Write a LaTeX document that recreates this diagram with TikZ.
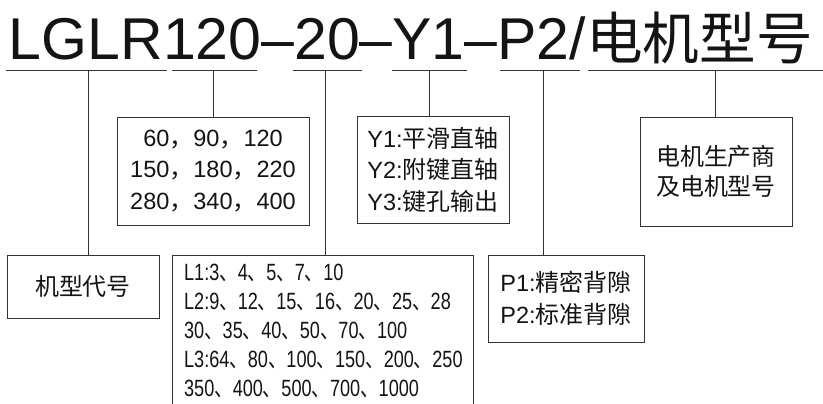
\documentclass[tikz,border=0pt]{standalone}
\usepackage{fontspec}
\setmainfont{Liberation Sans}
\newfontfamily\cjk[Scale=1.02]{Noto Sans CJK SC}
\newfontfamily\condlat[FakeStretch=0.77]{Liberation Sans}
\newfontfamily\condcjk[FakeStretch=0.77,Scale=1.02]{Noto Sans CJK SC}
\newcommand{\dunhao}{{\condcjk 、}}
\newcommand{\qcomma}{{\cjk ，}}
\begin{document}
\begin{tikzpicture}[x=1pt,y=-1pt,
  box/.style={draw=black!80, line width=0.9pt, inner sep=0pt, text=black!92,
    font=\fontsize{23.5}{31.5}\selectfont},
  link/.style={draw=black!80, line width=0.9pt}]
\useasboundingbox (0,0) rectangle (823,404);
\clip (0,0) rectangle (823,404);
\fill[white] (0,0) rectangle (823,404);

% title
\node[anchor=base west, inner sep=0pt, text=black!92, font=\fontsize{59}{59}\selectfont] (title) at (8.7,60)
  {LGLR120–20–Y1–P2/{\fontsize{55.5}{59}\cjk 电机型号}};

% underline segments
\coordinate (s1a) at (6,70);   \coordinate (s1b) at (167,70);
\coordinate (s2a) at (172,70); \coordinate (s2b) at (257,70);
\coordinate (s3a) at (293,70); \coordinate (s3b) at (362,70);
\coordinate (s4a) at (392,70); \coordinate (s4b) at (467,70);
\coordinate (s5a) at (500,70); \coordinate (s5b) at (580,70);
\coordinate (s6a) at (588,70); \coordinate (s6b) at (823,70);
\foreach \i in {1,...,6} {\draw[link] (s\i a) -- (s\i b);}

% connector start points
\coordinate (u1) at (88,70);
\coordinate (u2) at (213,70);
\coordinate (u3) at (325,70);
\coordinate (u4) at (429,70);
\coordinate (u5) at (543,70);
\coordinate (u6) at (715,70);

% boxes
\node[box, minimum width=152, minimum height=63] (bA) at (83,286.5) {\cjk 机型代号};

\node[box, minimum width=192, minimum height=108, align=center] (bB) at (213,171)
  {60\qcomma 90\qcomma 120\\150\qcomma 180\qcomma 220\\280\qcomma 340\qcomma 400};

\node[box, anchor=north west, minimum width=301, minimum height=152, text width=277.6,
  inner xsep=11.7, align=left, font=\condlat\fontsize{23.5}{29}\selectfont] (bC) at (172,255)
  {L1:3\dunhao 4\dunhao 5\dunhao 7\dunhao 10\\
   L2:9\dunhao 12\dunhao 15\dunhao 16\dunhao 20\dunhao 25\dunhao 28\\
   30\dunhao 35\dunhao 40\dunhao 50\dunhao 70\dunhao 100\\
   L3:64\dunhao 80\dunhao 100\dunhao 150\dunhao 200\dunhao 250\\
   350\dunhao 400\dunhao 500\dunhao 700\dunhao 1000};

\node[box, minimum width=152, minimum height=107, align=left] (bD) at (433,169.5)
  {Y1:{\cjk 平滑直轴}\\Y2:{\cjk 附键直轴}\\Y3:{\cjk 键孔输出}};

\node[box, minimum width=152, minimum height=109, align=center,
  font=\cjk\fontsize{23.5}{30}\selectfont] (bE) at (716,171.5)
  {电机生产商\\及电机型号};

\node[box, minimum width=156, minimum height=87, align=left] (bF) at (566,298.5)
  {P1:{\cjk 精密背隙}\\P2:{\cjk 标准背隙}};

% connectors
\draw[link] (u1) -- (u1 |- bA.north);
\draw[link] (u2) -- (u2 |- bB.north);
\draw[link] (u3) -- (u3 |- bC.north);
\draw[link] (u4) -- (u4 |- bD.north);
\draw[link] (u5) -- (u5 |- bF.north);
\draw[link] (u6) -- (u6 |- bE.north);
\end{tikzpicture}
\end{document}
